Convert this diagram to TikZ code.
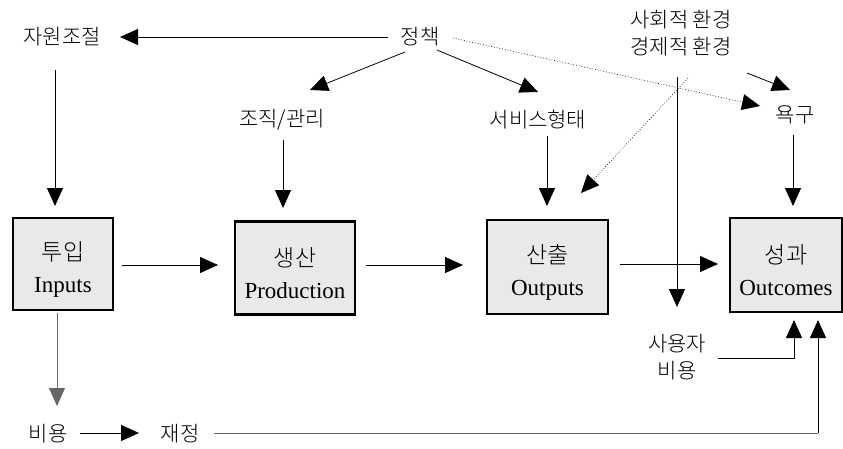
\documentclass[tikz,border=0pt]{standalone}
\usepackage{fontspec}
\setmainfont{Liberation Serif}
\newfontfamily\kr{Noto Sans CJK KR}[UprightFont=* Light]
\usetikzlibrary{arrows.meta}
\definecolor{boxfill}{HTML}{E7EAE7}
\newcommand{\topstrut}{\rule{0pt}{30pt}}
\tikzset{
  lbl/.style={font=\kr\fontsize{21}{25}\selectfont, inner sep=1pt, align=center},
  stage/.style={draw, line width=2.4pt, fill=boxfill, align=center, inner sep=0pt,
    font=\fontsize{23}{32}\selectfont},
  arr/.style={line width=0.8pt, -{Triangle[length=18pt,width=16pt]}},
  garr/.style={arr, draw=black!60},
  dotarr/.style={arr, dotted},
}
\begin{document}
\begin{tikzpicture}[x=1pt,y=-1pt]
\useasboundingbox (0,0) rectangle (843,448);

% text labels
\node[lbl] (res) at (62,37) {자원조절};
\node[lbl] (pol) at (420,37) {정책};
\node[lbl] (org) at (282,120) {조직/관리};
\node[lbl] (svc) at (538,120) {서비스형태};
\node[lbl] (env) at (681,33) {사회적 환경\\[2pt]경제적 환경};
\node[lbl] (need) at (795,115) {욕구};
\node[lbl] (user) at (677,357) {사용자\\[2pt]비용};
\node[lbl] (cost) at (48,434) {비용};
\node[lbl] (fin) at (180,434) {재정};

% stage boxes
\node[stage, minimum width=100pt, minimum height=92pt] (in) at (63,264)
  {\topstrut{\kr 투입}\\Inputs};
\node[stage, minimum width=120pt, minimum height=93pt] (prod) at (295,268)
  {\topstrut{\kr 생산}\\Production};
\node[stage, minimum width=121pt, minimum height=94pt] (out) at (547.5,267)
  {\topstrut{\kr 산출}\\Outputs};
\node[stage, minimum width=112pt, minimum height=94pt] (oc) at (786,265)
  {\topstrut{\kr 성과}\\Outcomes};

% helper points
\coordinate (envDown) at (677,77);
\coordinate (userEnd) at (677,307);
\coordinate (userR) at (718,358);
\coordinate (finR) at (818,433);

% policy links
\draw[arr] (388,37) -- (120,37);
\draw[arr] (405,52) -- (310,90);
\draw[arr] (437,50) -- (538,92);
\draw[dotarr, line width=0.6pt] (453,38) -- (760,106);
\draw[dotarr, line width=0.6pt] (688,78) -- (581,193);
\draw[arr] (747,73) -- (790,90);
\draw[arr] (envDown) -- (userEnd);

% vertical feeds into boxes
\draw[arr] (55,70) -- (55,206);
\draw[arr] (283,140) -- (283,208);
\draw[arr] (547,136) -- (547,206);
\draw[arr] (793,135) -- (793,206);

% main chain
\draw[arr] (122,265) -- (218,265);
\draw[arr] (366,265) -- (463,265);
\draw[arr] (620,264) -- (718,264);

% costs and funding
\draw[garr] (57,313) -- (57,406);
\draw[arr] (80,433) -- (139,433);
\draw[draw=black!60, line width=0.8pt] (214,433) -- (finR);
\draw[arr] (finR) -- (818,320);
\draw[arr] (userR) -- (794,358) -- (794,320);
\end{tikzpicture}
\end{document}
